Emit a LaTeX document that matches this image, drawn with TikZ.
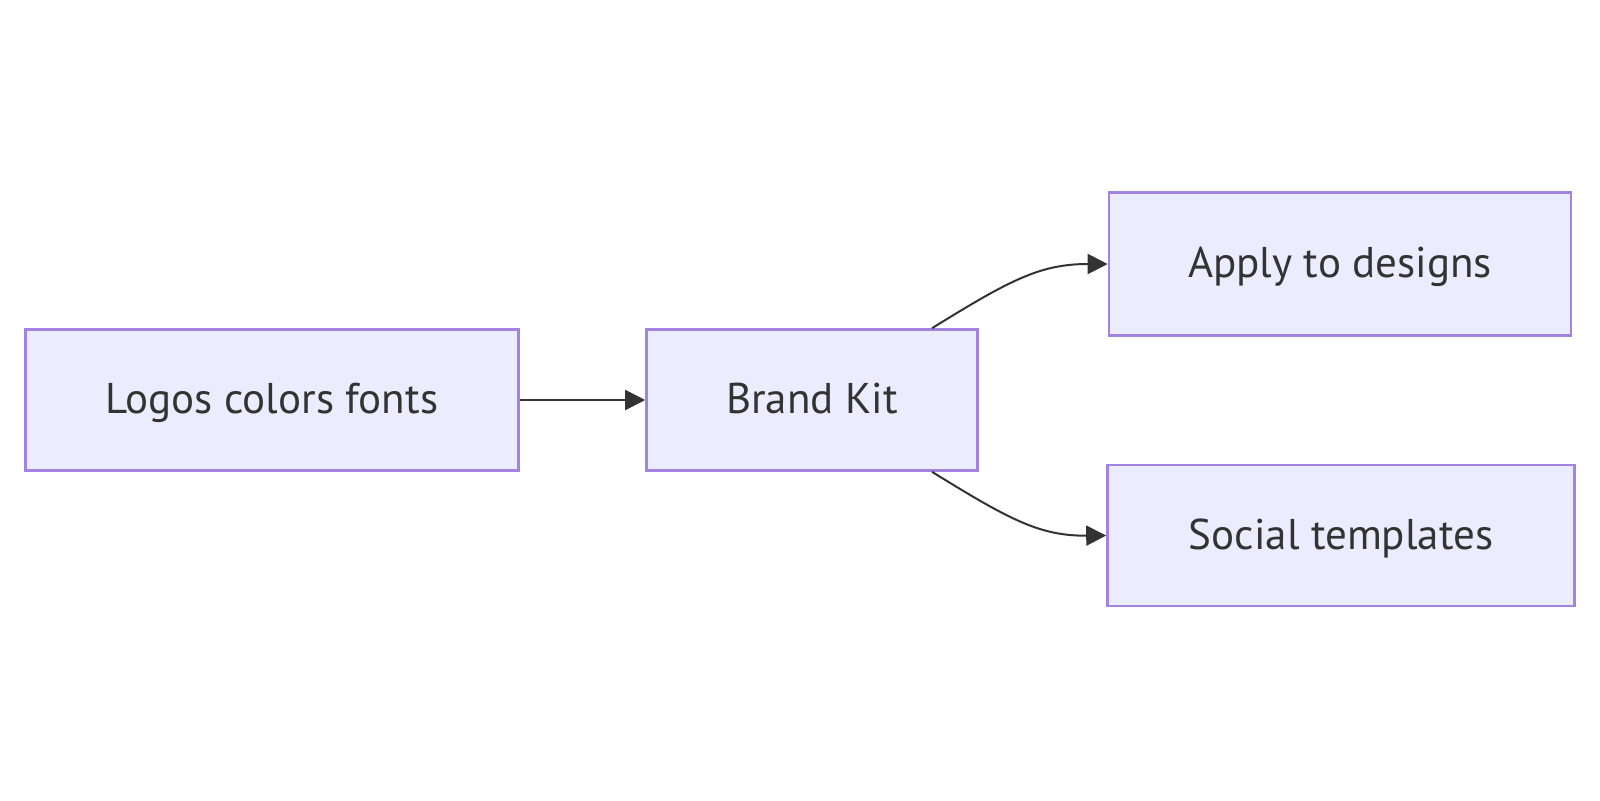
\documentclass[tikz,border=0pt]{standalone}
\usepackage{fontspec}
\setmainfont{PT Sans}
\usetikzlibrary{arrows.meta}
\definecolor{boxfill}{HTML}{ECECFF}
\definecolor{boxline}{HTML}{A283E3}
\definecolor{ink}{HTML}{333333}
\tikzset{
  box/.style={draw=boxline, fill=boxfill, line width=1.3pt, text=ink, inner sep=0pt,
    font=\fontsize{21.5}{25}\selectfont, text height=17.5pt, text depth=4pt},
  conn/.style={draw=ink, line width=1pt, -{Triangle[length=10pt,width=10pt]}},
}
\begin{document}
\begin{tikzpicture}[x=0.5pt,y=-0.5pt]
\useasboundingbox (0,0) rectangle (1600,800);
\node[box, minimum width=246.5pt, minimum height=70.5pt] (src) at (272,400) {Logos colors fonts};
\node[box, minimum width=165.5pt, minimum height=70.5pt] (kit) at (812,400) {Brand Kit};
\node[box, minimum width=231pt, minimum height=71.5pt] (apply) at (1340,264) {Apply to designs};
\node[box, minimum width=233.5pt, minimum height=70.5pt] (social) at (1341,535.5) {Social templates};
\draw[conn] (src.east) -- (kit.west);
\coordinate (kt) at ([xshift=60pt]kit.north);
\coordinate (kb) at ([xshift=60pt]kit.south);
\draw[conn] (kt) .. controls (1010,280) and (1040,264) .. (apply.west);
\draw[conn] (kb) .. controls (1010,520) and (1040,536) .. (social.west);
\end{tikzpicture}
\end{document}
